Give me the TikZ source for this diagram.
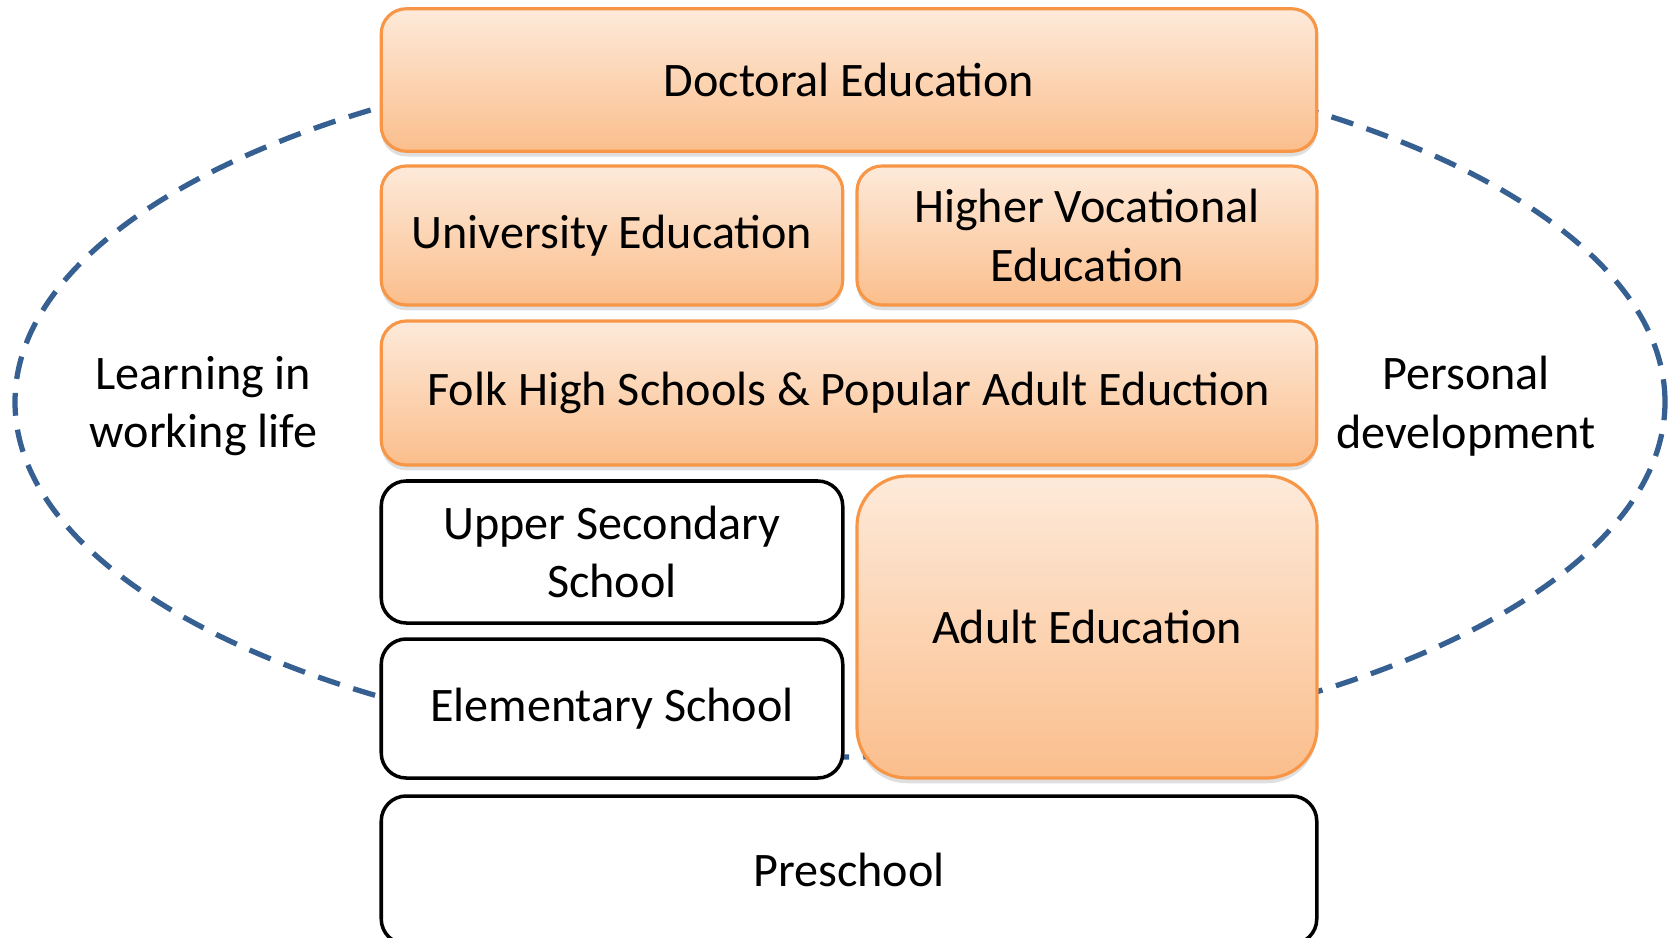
\documentclass[tikz,border=0pt]{standalone}
\usepackage{fontspec}
\setmainfont{Carlito}
\usetikzlibrary{shadows}
\definecolor{peachtop}{RGB}{253,234,218}
\definecolor{peachbottom}{RGB}{251,190,140}
\definecolor{peachline}{RGB}{247,150,70}
\definecolor{ringblue}{RGB}{55,96,146}

\begin{document}
\begin{tikzpicture}[
    every node/.style={font=\fontsize{13.7}{16.6}\selectfont, align=center, inner sep=0pt},
    peachbox/.style={draw=peachline, line width=0.9pt, rounded corners=0.25cm,
      top color=peachtop, bottom color=peachbottom,
      drop shadow={opacity=0.25, shadow xshift=0pt, shadow yshift=-1.5pt}},
    plainbox/.style={draw=black, line width=1pt, rounded corners=0.25cm, fill=white}
  ]
  \useasboundingbox (0,0) rectangle (16.71,9.37);

  % ring behind the levels
  \draw[ringblue, line width=1.5pt, dash pattern=on 6.5pt off 4pt]
    (8.40,5.35) ellipse [x radius=8.25, y radius=3.55];

  \node[peachbox, minimum width=9.355cm, minimum height=1.425cm] (doctoral) at (8.49,8.57) {Doctoral Education};
  \node[peachbox, minimum width=4.615cm, minimum height=1.39cm] (university) at (6.12,7.015) {University Education};
  \node[peachbox, minimum width=4.60cm, minimum height=1.39cm] (vocational) at (10.87,7.015) {Higher Vocational\\Education};
  \node[peachbox, minimum width=9.355cm, minimum height=1.44cm] (folk) at (8.49,5.44) {Folk High Schools \& Popular Adult Eduction};
  \node[plainbox, minimum width=4.615cm, minimum height=1.42cm] (upper) at (6.12,3.85) {Upper Secondary\\School};
  \node[plainbox, minimum width=4.615cm, minimum height=1.39cm] (elementary) at (6.12,2.285) {Elementary School};
  \node[peachbox, rounded corners=0.5cm, minimum width=4.60cm, minimum height=3.02cm] (adult) at (10.87,3.10) {Adult Education};
  \node[plainbox, minimum width=9.355cm, minimum height=1.48cm] (preschool) at (8.49,0.67) {Preschool};

  \node (work) at (2.035,5.31) {Learning in\\working life};
  \node (personal) at (14.66,5.31) {Personal\\development};
\end{tikzpicture}
\end{document}
